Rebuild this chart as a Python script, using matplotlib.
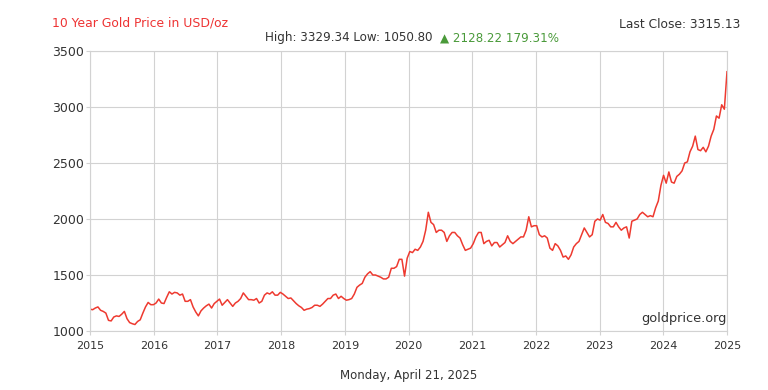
import matplotlib.pyplot as plt
import pandas as pd

# semi-monthly gold price readings (USD/oz), Apr 21 2015 -> Apr 21 2025
prices = [
    # 2015 (from late April)
    1195, 1190, 1205, 1215, 1185, 1175, 1160, 1095, 1090, 1125,
    1135, 1130, 1150, 1175, 1110, 1075, 1065, 1058,
    # 2016
    1085, 1100, 1160, 1215, 1255, 1235, 1235, 1250, 1285, 1250,
    1245, 1300, 1350, 1330, 1345, 1340, 1320, 1330, 1265, 1265,
    1280, 1215, 1170, 1135,
    # 2017
    1180, 1205, 1225, 1240, 1205, 1245, 1265, 1285, 1230, 1255,
    1280, 1250, 1220, 1250, 1265, 1290, 1340, 1310, 1280, 1280,
    1275, 1290, 1250, 1265,
    # 2018
    1320, 1340, 1330, 1350, 1320, 1320, 1345, 1330, 1310, 1290,
    1295, 1270, 1245, 1225, 1210, 1185, 1195, 1200, 1210, 1230,
    1230, 1220, 1240, 1265,
    # 2019
    1290, 1290, 1320, 1330, 1290, 1310, 1290, 1275, 1280, 1290,
    1330, 1390, 1410, 1425, 1480, 1510, 1530, 1500, 1500, 1490,
    1480, 1465, 1465, 1480,
    # 2020
    1560, 1560, 1575, 1640, 1640, 1490, 1650, 1710, 1700, 1730,
    1720, 1750, 1800, 1900, 2060, 1970, 1950, 1880, 1900, 1900,
    1880, 1800, 1850, 1880,
    # 2021
    1880, 1850, 1830, 1770, 1720, 1730, 1740, 1780, 1840, 1880,
    1880, 1780, 1800, 1810, 1760, 1790, 1790, 1750, 1770, 1790,
    1850, 1800, 1780, 1800,
    # 2022
    1820, 1840, 1840, 1900, 2020, 1930, 1940, 1940, 1860, 1840,
    1850, 1830, 1740, 1720, 1780, 1760, 1720, 1660, 1670, 1640,
    1680, 1750, 1780, 1800,
    # 2023
    1860, 1920, 1880, 1840, 1860, 1980, 2000, 1990, 2040, 1970,
    1960, 1930, 1930, 1970, 1930, 1900, 1920, 1930, 1830, 1980,
    1990, 2000, 2040, 2060,
    # 2024
    2040, 2020, 2030, 2020, 2100, 2160, 2300, 2390, 2320, 2420,
    2330, 2320, 2380, 2400, 2430, 2500, 2510, 2600, 2650, 2740,
    2620, 2610, 2640, 2600,
    # 2025 (to April 21)
    2650, 2740, 2800, 2920, 2900, 3020, 2980, 3315,
]
year_labels = [str(y) for y in range(2015, 2026)]
y_ticks = [1000, 1500, 2000, 2500, 3000, 3500]

dates = pd.date_range("2015-04-21", "2025-04-21", periods=len(prices))
tick_dates = pd.date_range("2015-04-21", periods=11, freq=pd.DateOffset(years=1))

grey = "#d2d2d2"
txt = "#333333"

fig = plt.figure(figsize=(7.68, 3.9), dpi=100)
ax = fig.add_axes([90 / 768, 1 - 331 / 390, 637 / 768, 280 / 390])

ax.plot(dates, prices, color="#ee3a30", lw=1.1)

ax.set_xlim(tick_dates[0], tick_dates[-1])
ax.set_ylim(1000, 3500)
ax.set_xticks(tick_dates)
ax.set_xticklabels(year_labels, fontsize=8, color=txt)
ax.set_yticks(y_ticks)
ax.set_yticklabels([str(v) for v in y_ticks], fontsize=9, color=txt)
ax.tick_params(axis="x", length=3, color=grey, pad=4)
ax.tick_params(axis="y", length=3, color=grey, pad=1)
ax.grid(color=grey, lw=0.8)
for s in ax.spines.values():
    s.set_color(grey)
    s.set_linewidth(0.8)

ax.text(0.999, 0.02, "goldprice.org", transform=ax.transAxes, ha="right",
        va="bottom", fontsize=9.3, color=txt)

fig.text(52 / 768, 1 - 23 / 390, "10 Year Gold Price in USD/oz", color="#ee3333",
         fontsize=8.9, va="center")
fig.text(740 / 768, 1 - 25 / 390, "Last Close: 3315.13", color=txt,
         fontsize=8.8, va="center", ha="right")
fig.text(265 / 768, 1 - 38 / 390, "High: 3329.34 Low: 1050.80", color=txt,
         fontsize=8.6, va="center", ha="left")
fig.text(440 / 768, 1 - 38 / 390, "▲ 2128.22 179.31%", color="#4a9a3a",
         fontsize=8.6, va="center", ha="left")
fig.text(409 / 768, 1 - 375 / 390, "Monday, April 21, 2025", color=txt,
         fontsize=8.5, va="center", ha="center")

fig.savefig("out.png", dpi=100)
